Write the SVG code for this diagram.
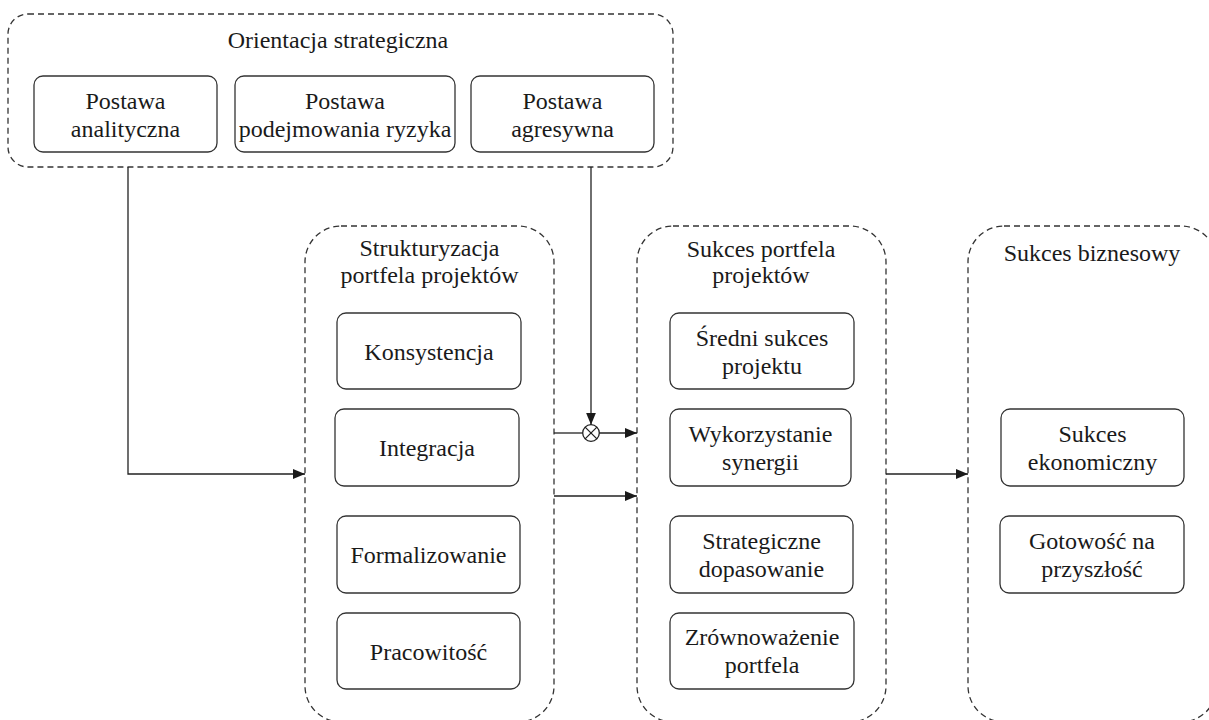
<svg xmlns="http://www.w3.org/2000/svg" width="1209" height="720" viewBox="0 0 1209 720">
  <style>
    .group { fill: none; stroke: #333; stroke-width: 1.3; stroke-dasharray: 6 4; }
    .box { fill: #fff; stroke: #333; stroke-width: 1.3; }
    .lbl { font-family: "Liberation Serif", "Times New Roman", serif; font-size: 24px; fill: #1a1a1a; text-anchor: middle; }
    .wire { fill: none; stroke: #222; stroke-width: 1.3; }
  </style>
  <defs>
    <marker id="arrow" markerUnits="userSpaceOnUse" markerWidth="13" markerHeight="11" refX="12" refY="5" orient="auto">
      <path d="M0,0 L12,5 L0,10 z" fill="#1a1a1a"/>
    </marker>
  </defs>
  <rect width="1209" height="720" fill="#fff"/>

  <!-- Strategic orientation -->
  <g id="orientacja">
    <rect class="group" x="8" y="14" width="665" height="153" rx="20"/>
    <text class="lbl" x="338" y="48">Orientacja strategiczna</text>
  </g>
  <g id="postawa-analityczna">
    <rect class="box" x="34" y="76" width="183" height="76" rx="9"/>
    <text class="lbl" x="125.5" y="109">Postawa</text>
    <text class="lbl" x="125.5" y="137">analityczna</text>
  </g>
  <g id="postawa-ryzyka">
    <rect class="box" x="235" y="76" width="220" height="76" rx="9"/>
    <text class="lbl" x="345" y="109">Postawa</text>
    <text class="lbl" x="345" y="137">podejmowania ryzyka</text>
  </g>
  <g id="postawa-agresywna">
    <rect class="box" x="471" y="76" width="183" height="76" rx="9"/>
    <text class="lbl" x="562.5" y="109">Postawa</text>
    <text class="lbl" x="562.5" y="137">agresywna</text>
  </g>

  <!-- Portfolio structuring -->
  <g id="strukturyzacja">
    <rect class="group" x="305" y="226" width="249" height="496" rx="36"/>
    <text class="lbl" x="429.5" y="256">Strukturyzacja</text>
    <text class="lbl" x="429.5" y="283">portfela projektów</text>
  </g>
  <g id="konsystencja">
    <rect class="box" x="337" y="313" width="184" height="76" rx="9"/>
    <text class="lbl" x="429" y="360">Konsystencja</text>
  </g>
  <g id="integracja">
    <rect class="box" x="335" y="409" width="184" height="77" rx="9"/>
    <text class="lbl" x="427" y="456">Integracja</text>
  </g>
  <g id="formalizowanie">
    <rect class="box" x="337" y="516" width="183" height="77" rx="9"/>
    <text class="lbl" x="428.5" y="563">Formalizowanie</text>
  </g>
  <g id="pracowitosc">
    <rect class="box" x="337" y="613" width="183" height="76" rx="9"/>
    <text class="lbl" x="428.5" y="660">Pracowitość</text>
  </g>

  <!-- Portfolio success -->
  <g id="sukces-portfela">
    <rect class="group" x="637" y="226" width="249" height="496" rx="36"/>
    <text class="lbl" x="761" y="257">Sukces portfela</text>
    <text class="lbl" x="761" y="283">projektów</text>
  </g>
  <g id="sredni-sukces">
    <rect class="box" x="670" y="313" width="184" height="76" rx="9"/>
    <text class="lbl" x="762" y="346">Średni sukces</text>
    <text class="lbl" x="762" y="374">projektu</text>
  </g>
  <g id="synergia">
    <rect class="box" x="670" y="409" width="181" height="77" rx="9"/>
    <text class="lbl" x="760.5" y="442">Wykorzystanie</text>
    <text class="lbl" x="760.5" y="470">synergii</text>
  </g>
  <g id="dopasowanie">
    <rect class="box" x="670" y="516" width="183" height="77" rx="9"/>
    <text class="lbl" x="761.5" y="549">Strategiczne</text>
    <text class="lbl" x="761.5" y="577">dopasowanie</text>
  </g>
  <g id="zrownowazenie">
    <rect class="box" x="670" y="613" width="184" height="76" rx="9"/>
    <text class="lbl" x="762" y="645">Zrównoważenie</text>
    <text class="lbl" x="762" y="673">portfela</text>
  </g>

  <!-- Business success -->
  <g id="sukces-biznesowy">
    <rect class="group" x="968" y="226" width="249" height="496" rx="36"/>
    <text class="lbl" x="1092" y="261">Sukces biznesowy</text>
  </g>
  <g id="sukces-ekonomiczny">
    <rect class="box" x="1001" y="409" width="183" height="77" rx="9"/>
    <text class="lbl" x="1092.5" y="442">Sukces</text>
    <text class="lbl" x="1092.5" y="470">ekonomiczny</text>
  </g>
  <g id="gotowosc">
    <rect class="box" x="1000" y="516" width="184" height="77" rx="9"/>
    <text class="lbl" x="1092" y="549">Gotowość na</text>
    <text class="lbl" x="1092" y="577">przyszłość</text>
  </g>

  <!-- Connectors -->
  <g id="connectors">
    <path class="wire" d="M128,167 V474 H305" marker-end="url(#arrow)"/>
    <path class="wire" d="M591,167 V424.7" marker-end="url(#arrow)"/>
    <circle class="wire" cx="591" cy="433" r="8.3"/>
    <path class="wire" d="M585.1,427.1 L596.9,438.9 M596.9,427.1 L585.1,438.9"/>
    <path class="wire" d="M554,433 H582.7"/>
    <path class="wire" d="M599.3,433 H637" marker-end="url(#arrow)"/>
    <path class="wire" d="M554,496 H637" marker-end="url(#arrow)"/>
    <path class="wire" d="M886,474 H968" marker-end="url(#arrow)"/>
  </g>
</svg>
